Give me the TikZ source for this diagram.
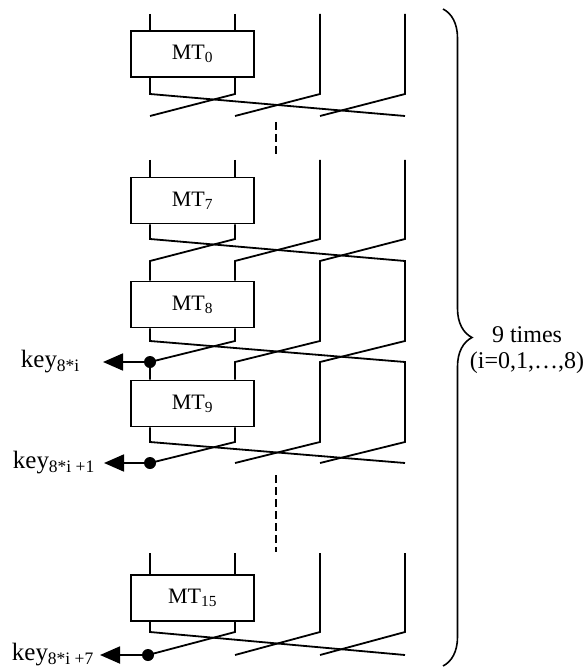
\documentclass[tikz,border=0pt]{standalone}
\usepackage{fontspec}
\setmainfont{Liberation Serif}
\usepackage{tikz}
\usetikzlibrary{arrows.meta, calc, positioning, decorations.pathreplacing}

\tikzset{
  mtbox/.style={draw, fill=white, minimum width=123pt, minimum height=46pt,
    inner sep=0pt, font=\fontsize{22}{26}\selectfont},
  keydot/.style={circle, fill, inner sep=0pt, minimum size=12pt},
  keylbl/.style={anchor=west, inner sep=0pt, font=\fontsize{25}{29}\selectfont},
  keyarrow/.style={-{Triangle[length=20pt, width=17pt]}},
  gap/.style={dash pattern=on 8pt off 4pt}
}

\begin{document}
\begin{tikzpicture}[x=1pt, y=-1pt, line width=1.8pt]

  \useasboundingbox (0,0) rectangle (586,668);

  % columns
  \coordinate (c1) at (150,0);
  \coordinate (c2) at (235,0);
  \coordinate (c3) at (320,0);
  \coordinate (c4) at (405,0);

  % first round
  \node[mtbox] (mt0) at (192.5,54) {MT\textsubscript{0}};
  \draw (150,14) -- (mt0.north -| c1);
  \draw (235,14) -- (mt0.north -| c2);
  \draw (mt0.south -| c1) -- (150,94) -- (405,116);
  \draw (mt0.south -| c2) -- (235,94) -- (150,116);
  \draw (320,14) -- (320,94) -- (235,116);
  \draw (405,14) -- (405,94) -- (320,116);

  \draw[gap] (276,122) -- (276,157);

  % rounds 7, 8 and 9
  \node[mtbox] (mt7) at (192.5,200.5) {MT\textsubscript{7}};
  \node[mtbox] (mt8) at (192.5,304.5) {MT\textsubscript{8}};
  \node[mtbox] (mt9) at (192.5,403.5) {MT\textsubscript{9}};

  \node[keydot] (d0) at (150,362) {};
  \node[keydot] (d1) at (150,463) {};

  \draw (150,160) -- (mt7.north -| c1);
  \draw (235,160) -- (mt7.north -| c2);
  \draw (mt7.south -| c1) -- (150,239) -- (405,261) -- (405,341) -- (320,362)
    -- (320,442) -- (235,463);
  \draw (mt7.south -| c2) -- (235,239) -- (150,261) -- (mt8.north -| c1);
  \draw (320,160) -- (320,239) -- (235,261) -- (mt8.north -| c2);
  \draw (405,160) -- (405,239) -- (320,261) -- (320,341) -- (235,362)
    -- (mt9.north -| c2);

  \draw (mt8.south -| c1) -- (150,341) -- (405,362) -- (405,442) -- (320,463);
  \draw (mt8.south -| c2) -- (235,341) -- (d0.center) -- (mt9.north -| c1);

  \draw (mt9.south -| c1) -- (150,442) -- (405,463);
  \draw (mt9.south -| c2) -- (235,442) -- (d1.center);

  \draw[gap] (276,475) -- (276,552);

  % last round
  \node[mtbox] (mt15) at (192.5,598) {MT\textsubscript{15}};
  \node[keydot] (d7) at (148,655) {};
  \draw (150,553) -- (mt15.north -| c1);
  \draw (235,553) -- (mt15.north -| c2);
  \draw (mt15.south -| c1) -- (150,632) -- (405,655);
  \draw (mt15.south -| c2) -- (235,632) -- (d7.center);
  \draw (320,553) -- (320,632) -- (235,655);
  \draw (405,553) -- (405,632) -- (320,655);

  % key outputs
  \node[keylbl] (k0) at (20,362) {key\textsubscript{8*i}};
  \node[keylbl] (k1) at (12,463) {key\textsubscript{8*i +1}};
  \node[keylbl] (k7) at (11,655) {key\textsubscript{8*i +7}};
  \coordinate (t0) at (103,362);
  \coordinate (t1) at (104,463);
  \coordinate (t7) at (100,655);
  \draw[keyarrow] (d0.center) -- (t0);
  \draw[keyarrow] (d1.center) -- (t1);
  \draw[keyarrow] (d7.center) -- (t7);

  % repetition
  \draw[line width=1.6pt, decorate, decoration={brace, amplitude=29pt}]
    (443,9) -- (443,666);
  \node[align=center, font=\fontsize{24}{26}\selectfont] (rep) at (527,350)
    {9 times\\(i=0,1,\dots,8)};

\end{tikzpicture}
\end{document}
